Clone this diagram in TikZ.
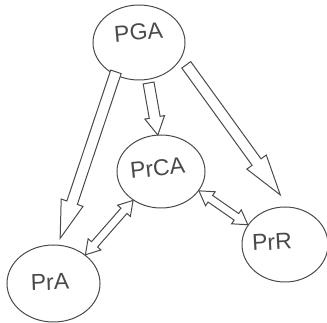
\documentclass[tikz,border=0pt]{standalone}
\usepackage{fontspec}
\setmainfont{Liberation Sans}
\usetikzlibrary{shapes.geometric,shapes.arrows,calc}
\definecolor{sketchgray}{HTML}{4A4A4A}

\tikzset{
  bubble/.style={ellipse, draw=sketchgray, line width=1pt, inner sep=0pt},
  tag/.style={font=\fontsize{23}{25}\selectfont, text=sketchgray, inner sep=0pt},
  hollow/.style={single arrow, draw=sketchgray, line width=1pt, fill=white,
    minimum width=0pt, inner xsep=0pt, inner ysep=5pt},
  twin/.style={double arrow, draw=sketchgray, line width=1pt, fill=white,
    minimum width=0pt, inner xsep=0pt, inner ysep=3.5pt,
    double arrow head extend=4.5pt, double arrow tip angle=63},
}

% block arrow laid along (#2) -- (#3), as long as that stretch
\newcommand\hollowlink[3]{%
  \path let \p1=($(#3)-(#2)$), \n1={veclen(\x1,\y1)} in
    (#2) -- (#3) node[pos=0, anchor=tail, sloped, allow upside down,
      minimum height=\n1, #1] {};}

\begin{document}
\begin{tikzpicture}[x=1pt, y=-1pt]
  \useasboundingbox (0,0) rectangle (327,323);

  % the four bubbles
  \node[bubble, minimum width=92pt, minimum height=75pt] (PGA) at (139,42.5) {};
  \node[bubble, minimum width=88pt, minimum height=73pt] (PrCA) at (161,171.5) {};
  \node[bubble, minimum width=93pt, minimum height=77pt] (PrA) at (53.5,283.5) {};
  \node[bubble, minimum width=86pt, minimum height=75pt] (PrR) at (285,244.5) {};

  \node[tag, rotate=5] (pga-txt) at (138.5,32) {PGA};
  \node[tag, rotate=6] (prca-txt) at (157.5,168) {PrCA};
  \node[tag, rotate=2] (pra-txt) at (50,282) {PrA};
  \node[tag, rotate=3] (prr-txt) at (272,242) {PrR};

  % loose ends of the big arrows
  \coordinate (l-top) at ($(PGA.south west)+(10,2)$);
  \coordinate (l-tip) at ($(PrA.80)+(0,-7)$);
  \coordinate (m-top) at ($(PGA.south)+(9.5,2)$);
  \coordinate (r-top) at ($(PGA.330)+(9,0)$);
  \coordinate (r-tip) at ($(PrR.north)+(-5,-12)$);

  \hollowlink{hollow, single arrow head extend=6pt, single arrow tip angle=34}{l-top}{l-tip}
  \hollowlink{hollow, single arrow head extend=4.5pt, single arrow tip angle=58}{m-top}{PrCA.95}
  \hollowlink{hollow, single arrow head extend=6.5pt, single arrow tip angle=33}{r-top}{r-tip}

  % two-way links
  \hollowlink{twin, pos=0.5, anchor=center}{PrCA.226}{PrA.42}
  \hollowlink{twin, pos=0.5, anchor=center}{PrCA.333}{PrR.152}
\end{tikzpicture}
\end{document}
